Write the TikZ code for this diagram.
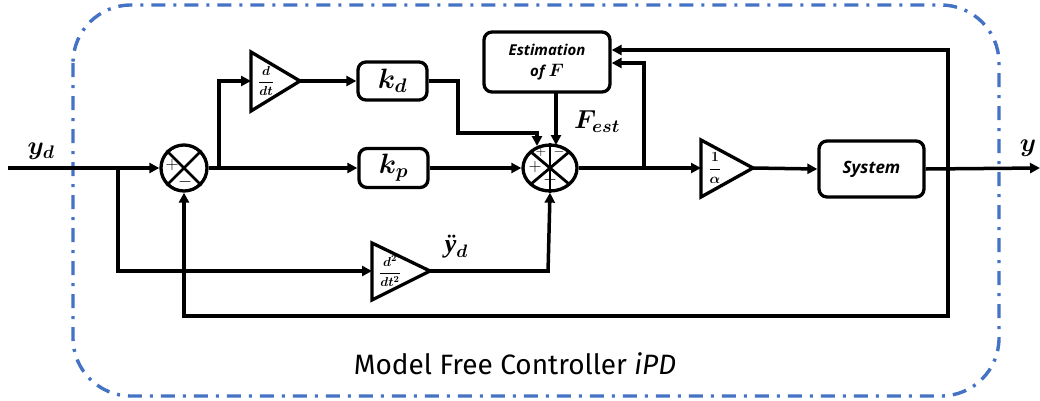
\RequirePackage{fix-cm}
\documentclass[tikz,border=0pt]{standalone}
\usepackage{fontspec}
\usepackage{amsmath,bm}
\setsansfont{Open Sans}
\newfontfamily\capfont{Fira Sans}
\newfontfamily\lserif{Liberation Serif}
\usetikzlibrary{arrows.meta,shapes.geometric,calc}
\definecolor{dashblue}{RGB}{68,114,196}
\tikzset{
  sig/.style={line width=3.5pt},
  arr/.style={sig,-{Triangle[length=10pt,width=10pt]}},
  blockbox/.style={draw,line width=3.3pt,rounded corners=8pt,inner sep=0pt},
  tri/.style={draw,line width=3.3pt,line join=miter},
  sumring/.style={draw,line width=3.3pt},
  sgn/.style={inner sep=0pt,font=\fontsize{18}{18}\selectfont},
  lbl/.style={inner sep=0pt,font=\fontsize{26}{26}\selectfont},
}
\begin{document}
\begin{tikzpicture}[x=1pt,y=-1pt]
\useasboundingbox (0,0) rectangle (1040,400);
% frame
\draw[dashblue,line width=3.4pt,dash pattern=on 14pt off 8pt on 3pt off 8pt,rounded corners=58pt] (73,5) rectangle (999,396);
\node[inner sep=0pt,font=\capfont\fontsize{28}{28}\selectfont] (cap) at (515,364) {Model Free Controller \textit{iPD}};

% summing junction 1
\node[circle,sumring,minimum size=46pt,inner sep=0pt] (s1) at (184,168) {};
\draw[line width=2.8pt] (s1.45) -- (s1.225) (s1.135) -- (s1.315);
\node[sgn] at (172,165) {$+$};
\node[sgn] at (185,182) {$-$};

% summing junction 2
\node[ellipse,sumring,minimum width=54pt,minimum height=46pt,inner sep=0pt] (s2) at (550,168) {};
\draw[line width=2.8pt] (s2.north) -- (s2.south);
\draw[line width=2.8pt] ($(s2.center)+(-19,-16)$) -- ($(s2.center)+(19,16)$);
\draw[line width=2.8pt] ($(s2.center)+(19,-16)$) -- ($(s2.center)+(-19,16)$);
\node[sgn,font=\fontsize{14}{14}\selectfont] at (541,152) {$+$};
\node[sgn,font=\fontsize{14}{14}\selectfont] at (559,152) {$-$};
\node[sgn] at (535,167) {$+$};
\node[sgn] at (550,180) {$-$};

% blocks
\node[blockbox,minimum width=69pt,minimum height=38pt] (kd) at (392.5,81) {\fontsize{28}{28}\selectfont$\bm{k_d}$};
\node[blockbox,minimum width=69pt,minimum height=39pt] (kp) at (393.5,168) {\fontsize{28}{28}\selectfont$\bm{k_p}$};
\node[blockbox,minimum width=126pt,minimum height=60pt,align=center,font=\sffamily\bfseries\itshape\fontsize{15}{21}\selectfont] (est) at (547,62) {Estimation\\of {\fontsize{18}{18}\selectfont$\bm{F}$}};
\node[blockbox,minimum width=105pt,minimum height=56pt,font=\sffamily\bfseries\itshape\fontsize{17}{17}\selectfont] (sys) at (871.5,169) {System};

% triangles
\coordinate (t1in) at (251,81); \coordinate (t1out) at (300,81);
\draw[tri] (251,52) -- (300,81) -- (251,111) -- cycle;
\node[inner sep=0pt,font=\fontsize{13}{13}\selectfont] (t1) at (266,81) {$\bm{\dfrac{d}{dt}}$};
\coordinate (t2in) at (372,271); \coordinate (t2out) at (430,271);
\draw[tri] (372,243) -- (430,271) -- (372,300) -- cycle;
\node[inner sep=0pt,font=\fontsize{13}{13}\selectfont] (t2) at (390,271) {$\bm{\dfrac{d^2}{dt^2}}$};
\coordinate (t3in) at (701,168); \coordinate (t3out) at (753,168);
\draw[tri] (701,140) -- (753,168) -- (701,197) -- cycle;
\node[inner sep=0pt,font=\fontsize{14}{14}\selectfont] (t3) at (715,168) {$\bm{\dfrac{1}{\alpha}}$};

% coordinates
\coordinate (in) at (8,168);
\coordinate (b1) at (118,168);
\coordinate (b2) at (219,168);
\coordinate (b3) at (644,168);
\coordinate (b4) at (948,168);
\coordinate (out) at (1040,168);

% connectors
\draw[arr] (in) -- (s1.west);
\draw[sig] (b1) -- (118,271);
\draw[arr] (116.25,271) -- (t2in);
\draw[arr] (s1.east) -- (kp.west);
\draw[sig] (b2) -- (219,81);
\draw[arr] (217.25,81) -- (t1in);
\draw[arr] (t1out) -- (kd.west);
\draw[sig] (kd.east) -- (458,81) -- (458,133) -- (537,133);
\draw[arr] (537,131.25) -- (537,146);
\draw[arr] (556,92) -- (556,145);
\draw[arr] (kp.east) -- (s2.west);
\draw[sig] (t2out) -- (548,271);
\draw[arr] (548,272.75) -- (s2.south);
\draw[arr] (s2.east) -- (t3in);
\draw[sig] (b3) -- (644,63);
\draw[arr] (645.75,63) -- (est.east |- 0,63);
\draw[arr] (t3out) -- (sys.west);
\draw[arr] (sys.east) -- (out);
\draw[sig] (b4) -- (948,50);
\draw[arr] (949.75,50) -- (est.east |- 0,50);
\draw[sig] (b4) -- (948,316) -- (184,316);
\draw[arr] (184,317.75) -- (s1.south);

% labels
\node[lbl] (lyd) at (41,151) {$\bm{y_d}$};
\node[lbl,font=\lserif\bfseries\itshape\fontsize{26}{26}\selectfont] (lydd) at (456,247) {ÿ\raisebox{-5pt}{\fontsize{18}{18}\selectfont$\bm{d}$}};
\node[lbl] (lfe) at (597,122) {$\bm{F_{est}}$};
\node[lbl] (ly) at (1028,148) {$\bm{y}$};
\end{tikzpicture}
\end{document}
